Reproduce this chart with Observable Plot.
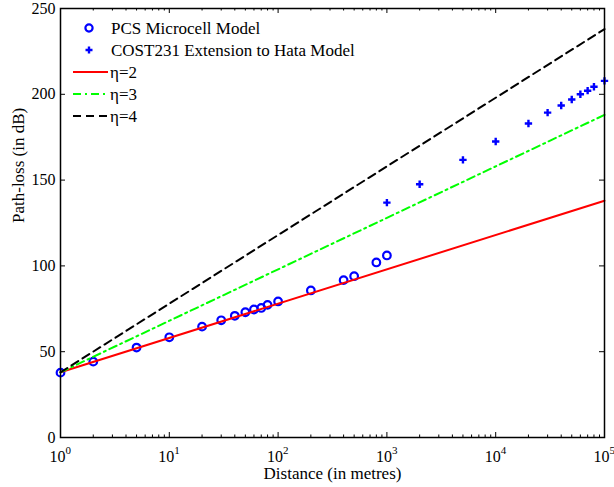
<!DOCTYPE html>
<html><head><meta charset="utf-8">
<script src="https://cdn.jsdelivr.net/npm/d3@7"></script>
<script src="https://cdn.jsdelivr.net/npm/@observablehq/plot@0.6"></script>
<style>body{margin:0;background:#fff}</style>
</head><body><div id="chart"></div>
<script>
// PCS Microcell Model (circles)
const pcsDist = [1, 2, 5, 10, 20, 30, 40, 50, 60, 70, 80, 100, 200, 400, 500, 800, 1000];
const pcsLoss = [37.8, 44.2, 52.4, 58.4, 64.6, 68.3, 70.9, 73.0, 74.6, 75.5, 77.3, 79.3, 85.7, 91.7, 94.0, 102.0, 106.1];
// COST231 Extension to Hata Model (plus)
const costDist = [1000, 2000, 5000, 10000, 20000, 30000, 40000, 50000, 60000, 70000, 80000, 100000];
const costLoss = [136.9, 147.6, 161.8, 172.5, 183.0, 189.3, 193.5, 197.0, 200.0, 202.1, 204.4, 207.8];
// Path-loss exponent lines (end points)
const lineDist = [1, 100000];
const eta2 = [38, 138];
const eta3 = [38, 188];
const eta4 = [38, 238];
// Axis ticks
const yTicks = [0, 50, 100, 150, 200, 250];
const xDecades = [1, 10, 100, 1000, 10000, 100000];
const xExponents = ["0", "1", "2", "3", "4", "5"];
const minorMultipliers = [2, 3, 4, 5, 6, 7, 8, 9];
const legendLabels = ["PCS Microcell Model", "COST231 Extension to Hata Model", "η=2", "η=3", "η=4"];

const xMinor = xDecades.slice(0, -1).flatMap(d => minorMultipliers.map(m => d * m));
const pcs = pcsDist.map((d, i) => ({d, v: pcsLoss[i]}));
const cost = costDist.map((d, i) => ({d, v: costLoss[i]}));
const mkLine = arr => lineDist.map((d, i) => ({d, v: arr[i]}));

const W = 614, H = 487, mL = 60, mR = 10, mT = 8, mB = 50;
const iW = W - mL - mR, iH = H - mT - mB;
const font = "'Liberation Serif', 'Times New Roman', serif";
const blue = "#0000ff", red = "#ff0000", green = "#00ff00";

const chart = Plot.plot({
  width: W, height: H,
  marginLeft: mL, marginRight: mR, marginTop: mT, marginBottom: mB,
  style: {fontFamily: font, fontSize: "16px", background: "white", color: "black"},
  x: {type: "log", domain: [1, 1e5], axis: null},
  y: {domain: [0, 250], axis: null},
  marks: [
    Plot.dot(pcs, {x: "d", y: "v", r: 3.8, stroke: blue, strokeWidth: 2.2, fill: "none"}),
    Plot.dot(cost, {x: "d", y: "v", symbol: "plus", r: 2.5, stroke: blue, strokeWidth: 2.4}),
    Plot.line(mkLine(eta2), {x: "d", y: "v", stroke: red, strokeWidth: 2}),
    Plot.line(mkLine(eta3), {x: "d", y: "v", stroke: green, strokeWidth: 2, strokeDasharray: "8,4,2,4"}),
    Plot.line(mkLine(eta4), {x: "d", y: "v", stroke: "black", strokeWidth: 2, strokeDasharray: "8,5"}),
    // inward ticks
    Plot.tickX(xDecades, {x: d => d, insetTop: iH - 5, stroke: "black", strokeWidth: 1}),
    Plot.tickX(xDecades, {x: d => d, insetBottom: iH - 5, stroke: "black", strokeWidth: 1}),
    Plot.tickX(xMinor, {x: d => d, insetTop: iH - 2.5, stroke: "black", strokeWidth: 1}),
    Plot.tickX(xMinor, {x: d => d, insetBottom: iH - 2.5, stroke: "black", strokeWidth: 1}),
    Plot.tickY(yTicks, {y: d => d, insetRight: iW - 5, stroke: "black", strokeWidth: 1}),
    Plot.tickY(yTicks, {y: d => d, insetLeft: iW - 5, stroke: "black", strokeWidth: 1}),
    Plot.frame({stroke: "black", strokeWidth: 1.5}),
    // tick labels
    Plot.text(yTicks, {y: d => d, text: d => String(d), frameAnchor: "left", textAnchor: "end", dx: -5, fontSize: 16, fill: "black"}),
    Plot.text(xDecades, {x: d => d, text: () => "10", frameAnchor: "bottom", textAnchor: "end", lineAnchor: "middle", dx: 5, dy: 19, fontSize: 16, fill: "black"}),
    Plot.text(xDecades, {x: d => d, text: (d, i) => xExponents[i], frameAnchor: "bottom", textAnchor: "start", lineAnchor: "middle", dx: 5, dy: 13, fontSize: 11, fill: "black"}),
    // axis titles
    Plot.text(["Distance (in metres)"], {text: d => d, frameAnchor: "bottom", lineAnchor: "middle", dy: 36, fontSize: 17, fill: "black"}),
    Plot.text(["Path-loss (in dB)"], {text: d => d, frameAnchor: "left", lineAnchor: "middle", dx: -42, rotate: -90, fontSize: 17, fill: "black"})
  ]
});
document.getElementById("chart").appendChild(chart);

// Legend (no box), top-left inside axes
const svg = d3.select(chart);
const g = svg.append("g").attr("font-family", font).attr("font-size", 17).attr("text-anchor", "start");
const rows = [28, 50, 72, 94, 116];
const sx0 = 73, sx1 = 108, mx = 89, tx = 111;
g.append("circle").attr("cx", mx).attr("cy", rows[0]).attr("r", 3.6).attr("fill", "none").attr("stroke", blue).attr("stroke-width", 2.2);
g.append("path").attr("d", `M${mx - 3.5},${rows[1]}h7M${mx},${rows[1] - 3.5}v7`).attr("stroke", blue).attr("stroke-width", 2.4);
g.append("line").attr("x1", sx0).attr("x2", sx1).attr("y1", rows[2]).attr("y2", rows[2]).attr("stroke", red).attr("stroke-width", 2);
g.append("line").attr("x1", sx0).attr("x2", sx1).attr("y1", rows[3]).attr("y2", rows[3]).attr("stroke", green).attr("stroke-width", 2).attr("stroke-dasharray", "8,4,2,4");
g.append("line").attr("x1", sx0).attr("x2", sx1).attr("y1", rows[4]).attr("y2", rows[4]).attr("stroke", "black").attr("stroke-width", 2).attr("stroke-dasharray", "8,5");
legendLabels.forEach((t, i) => {
  g.append("text").attr("x", tx - (i >= 2 ? 1 : 0)).attr("y", rows[i]).attr("dy", "0.35em").attr("text-anchor", "start").attr("fill", "black").text(t);
});
</script>
</body></html>
